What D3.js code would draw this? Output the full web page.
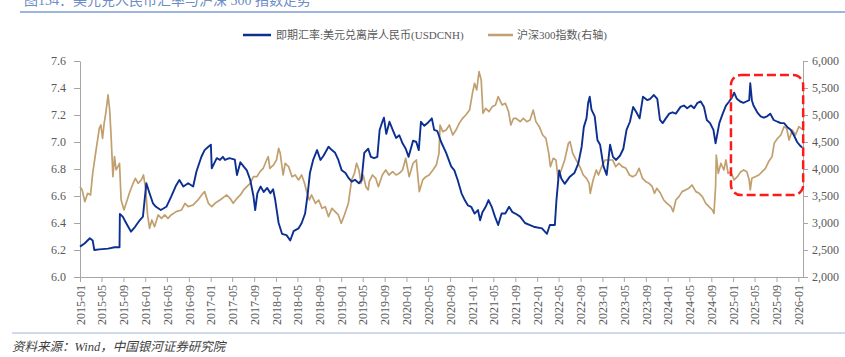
<!DOCTYPE html>
<html><head><meta charset="utf-8">
<script src="https://cdn.jsdelivr.net/npm/d3@7"></script>
<style>
html,body{margin:0;padding:0;background:#fff;}
svg text{font-family:"Liberation Serif","Noto Sans CJK SC",serif;}
</style></head>
<body><svg id="chart" width="845" height="357"></svg>
<script>
const titleText = "图134：美元兑人民币汇率与沪深 300 指数走势";
const sourceText = "资料来源：Wind，中国银河证券研究院";
const seriesNames = ["即期汇率:美元兑离岸人民币(USDCNH)", "沪深300指数(右轴)"];
const leftTicks = [6.0, 6.2, 6.4, 6.6, 6.8, 7.0, 7.2, 7.4, 7.6];
const rightTicks = [2000, 2500, 3000, 3500, 4000, 4500, 5000, 5500, 6000];
const xTickLabels = ["2015-01","2015-05","2015-09","2016-01","2016-05","2016-09","2017-01","2017-05","2017-09",
 "2018-01","2018-05","2018-09","2019-01","2019-05","2019-09","2020-01","2020-05","2020-09","2021-01","2021-05",
 "2021-09","2022-01","2022-05","2022-09","2023-01","2023-05","2023-09","2024-01","2024-05","2024-09","2025-01",
 "2025-05","2025-09","2026-01"];
const xDomain = ["2015-01-01", "2026-01-27"];
const highlightDates = ["2024-12-20", "2026-01-28"];
const highlightValues = [6.607, 7.496];

const usdcnh = [
["2015-01-01",6.225],["2015-01-28",6.25],["2015-02-25",6.287],["2015-03-13",6.27],["2015-03-22",6.20],
["2015-04-19",6.205],["2015-06-07",6.21],["2015-07-13",6.22],["2015-08-10",6.22],["2015-08-12",6.467],
["2015-08-28",6.447],["2015-09-16",6.40],["2015-10-13",6.336],["2015-11-04",6.37],["2015-12-01",6.42],
["2015-12-19",6.447],["2016-01-07",6.694],["2016-01-25",6.62],["2016-02-13",6.546],["2016-03-01",6.52],
["2016-03-28",6.496],["2016-04-28",6.52],["2016-05-25",6.595],["2016-06-22",6.68],["2016-07-10",6.718],
["2016-08-01",6.67],["2016-08-28",6.694],["2016-09-25",6.67],["2016-10-13",6.78],["2016-11-10",6.891],
["2016-11-28",6.94],["2016-12-19",6.965],["2017-01-02",6.98],["2017-01-07",6.805],["2017-02-04",6.88],
["2017-02-22",6.867],["2017-03-10",6.89],["2017-03-22",6.867],["2017-04-16",6.88],["2017-05-16",6.87],
["2017-05-28",6.755],["2017-06-16",6.85],["2017-07-04",6.82],["2017-07-22",6.79],["2017-08-10",6.72],
["2017-08-28",6.60],["2017-09-07",6.496],["2017-09-19",6.62],["2017-10-07",6.67],["2017-10-25",6.63],
["2017-11-13",6.66],["2017-12-01",6.62],["2017-12-16",6.65],["2017-12-28",6.57],["2018-01-16",6.40],
["2018-02-04",6.32],["2018-03-01",6.31],["2018-03-22",6.27],["2018-04-10",6.34],["2018-05-07",6.36],
["2018-05-25",6.40],["2018-06-13",6.47],["2018-06-28",6.62],["2018-07-10",6.77],["2018-07-28",6.867],
["2018-08-19",6.94],["2018-09-07",6.867],["2018-09-25",6.90],["2018-10-22",6.965],["2018-11-10",6.94],
["2018-11-28",6.92],["2018-12-16",6.867],["2019-01-04",6.79],["2019-01-25",6.77],["2019-02-13",6.73],
["2019-03-01",6.706],["2019-03-19",6.72],["2019-04-10",6.694],["2019-04-25",6.72],["2019-05-10",6.92],
["2019-06-01",6.95],["2019-06-16",6.89],["2019-07-04",6.88],["2019-07-22",6.89],["2019-08-04",7.089],
["2019-08-19",7.15],["2019-08-28",7.18],["2019-09-10",7.06],["2019-09-28",7.15],["2019-10-16",7.09],
["2019-11-04",7.03],["2019-11-22",7.05],["2019-12-10",6.99],["2019-12-28",6.95],["2020-01-13",6.89],
["2020-02-07",7.01],["2020-02-25",7.00],["2020-03-10",6.94],["2020-03-22",7.15],["2020-04-10",7.12],
["2020-04-28",7.14],["2020-05-22",7.175],["2020-06-04",7.09],["2020-06-22",7.08],["2020-07-13",7.00],
["2020-08-10",6.92],["2020-09-07",6.82],["2020-09-25",6.79],["2020-10-13",6.72],["2020-11-04",6.62],
["2020-11-22",6.57],["2020-12-10",6.53],["2020-12-28",6.52],["2021-01-16",6.47],["2021-02-04",6.496],
["2021-02-16",6.42],["2021-03-01",6.48],["2021-03-19",6.52],["2021-04-04",6.57],["2021-04-22",6.52],
["2021-05-10",6.447],["2021-05-28",6.385],["2021-06-16",6.47],["2021-07-07",6.47],["2021-07-28",6.52],
["2021-08-16",6.48],["2021-09-01",6.47],["2021-09-28",6.447],["2021-10-25",6.40],["2021-11-22",6.385],
["2021-12-19",6.37],["2022-01-28",6.36],["2022-02-25",6.32],["2022-03-13",6.385],["2022-04-10",6.385],
["2022-04-19",6.57],["2022-05-04",6.79],["2022-05-16",6.73],["2022-06-04",6.69],["2022-07-01",6.74],
["2022-07-28",6.77],["2022-08-19",6.84],["2022-09-07",6.965],["2022-09-19",7.11],["2022-10-04",7.175],
["2022-10-13",7.287],["2022-10-22",7.336],["2022-11-01",7.24],["2022-11-19",7.19],["2022-12-04",7.015],
["2022-12-19",6.98],["2023-01-07",6.82],["2023-01-25",6.756],["2023-02-13",6.98],["2023-03-01",6.89],
["2023-03-19",6.867],["2023-04-10",6.90],["2023-04-28",6.95],["2023-05-16",7.09],["2023-06-04",7.15],
["2023-06-22",7.26],["2023-07-10",7.22],["2023-07-28",7.175],["2023-08-16",7.336],["2023-09-10",7.31],
["2023-09-25",7.32],["2023-10-16",7.348],["2023-11-04",7.32],["2023-11-19",7.163],["2023-12-04",7.14],
["2023-12-22",7.175],["2024-01-10",7.21],["2024-01-28",7.22],["2024-02-16",7.21],["2024-03-13",7.26],
["2024-04-01",7.27],["2024-04-19",7.25],["2024-05-10",7.27],["2024-05-28",7.25],["2024-06-16",7.29],
["2024-07-04",7.30],["2024-07-22",7.26],["2024-08-07",7.163],["2024-08-25",7.14],["2024-09-13",7.09],
["2024-09-25",6.99],["2024-10-16",7.14],["2024-11-04",7.21],["2024-11-22",7.27],["2024-12-10",7.30],
["2024-12-28",7.336],["2025-01-07",7.365],["2025-01-22",7.32],["2025-02-10",7.30],["2025-02-28",7.29],
["2025-03-16",7.30],["2025-04-01",7.31],["2025-04-07",7.435],["2025-04-16",7.31],["2025-04-25",7.27],
["2025-05-16",7.22],["2025-06-04",7.19],["2025-06-22",7.18],["2025-07-10",7.19],["2025-07-28",7.21],
["2025-08-16",7.163],["2025-09-07",7.15],["2025-09-25",7.14],["2025-10-13",7.14],["2025-11-01",7.11],
["2025-11-19",7.09],["2025-12-07",7.05],["2025-12-25",7.00],["2026-01-13",6.97],["2026-01-22",6.96]
];

const csi300 = [
["2015-01-01",3673],["2015-01-13",3612],["2015-01-28",3395],["2015-02-13",3550],["2015-03-01",3519],
["2015-03-13",3920],["2015-04-01",4352],["2015-04-19",4753],["2015-04-28",4815],["2015-05-07",4568],
["2015-05-16",4845],["2015-05-25",5031],["2015-06-07",5371],["2015-06-16",5092],["2015-06-25",4537],
["2015-07-04",3858],["2015-07-13",4229],["2015-07-22",3982],["2015-08-01",4044],["2015-08-10",4106],
["2015-08-19",3426],["2015-09-04",3241],["2015-09-16",3365],["2015-10-04",3550],["2015-10-25",3735],
["2015-11-07",3828],["2015-11-22",3735],["2015-12-10",3797],["2015-12-22",3889],["2016-01-04",3612],
["2016-01-13",3179],["2016-01-25",2901],["2016-02-07",3056],["2016-02-22",2932],["2016-03-13",3149],
["2016-04-01",3087],["2016-04-19",3149],["2016-05-07",3087],["2016-05-25",3149],["2016-06-22",3210],
["2016-07-22",3241],["2016-08-10",3365],["2016-08-28",3303],["2016-09-25",3334],["2016-10-22",3427],
["2016-11-19",3550],["2016-11-28",3581],["2016-12-19",3365],["2017-01-07",3303],["2017-01-25",3365],
["2017-02-22",3426],["2017-03-19",3488],["2017-04-01",3519],["2017-04-19",3457],["2017-05-07",3365],
["2017-05-28",3457],["2017-06-16",3519],["2017-07-04",3612],["2017-07-22",3673],["2017-08-10",3735],
["2017-08-28",3858],["2017-09-16",3858],["2017-10-04",3951],["2017-10-22",4013],["2017-11-10",4167],
["2017-11-19",4229],["2017-11-28",4013],["2017-12-19",4075],["2018-01-04",4167],["2018-01-16",4383],
["2018-01-25",4290],["2018-02-10",3889],["2018-02-22",4106],["2018-03-13",4044],["2018-04-01",3858],
["2018-04-19",3889],["2018-05-07",3797],["2018-05-25",3889],["2018-06-10",3735],["2018-06-22",3580],
["2018-07-07",3426],["2018-07-19",3519],["2018-08-10",3365],["2018-08-28",3426],["2018-09-16",3272],
["2018-10-04",3303],["2018-10-22",3117],["2018-11-10",3272],["2018-11-28",3210],["2018-12-16",3149],
["2019-01-01",2994],["2019-01-19",3149],["2019-02-10",3365],["2019-02-28",3796],["2019-03-16",3920],
["2019-03-28",4106],["2019-04-10",3982],["2019-04-22",3735],["2019-05-04",3889],["2019-05-19",3673],
["2019-06-01",3612],["2019-06-07",3766],["2019-06-25",3889],["2019-07-13",3828],["2019-07-28",3673],
["2019-08-19",3889],["2019-09-07",3982],["2019-09-25",3889],["2019-10-16",3951],["2019-11-04",3889],
["2019-11-22",3920],["2019-12-10",3982],["2019-12-28",4198],["2020-01-16",3858],["2020-02-07",4106],
["2020-02-25",4167],["2020-03-13",3581],["2020-04-01",3797],["2020-04-19",3858],["2020-05-07",3889],
["2020-05-28",3982],["2020-06-16",4075],["2020-07-01",4290],["2020-07-07",4815],["2020-07-22",4692],
["2020-08-10",4722],["2020-08-28",4815],["2020-09-16",4630],["2020-10-04",4722],["2020-10-22",4845],
["2020-11-10",4939],["2020-11-28",5000],["2020-12-19",5092],["2021-01-04",5402],["2021-01-16",5587],
["2021-01-28",5463],["2021-02-10",5803],["2021-02-22",5650],["2021-03-04",5031],["2021-03-19",5124],
["2021-04-07",5062],["2021-04-25",5155],["2021-05-13",5186],["2021-05-28",5340],["2021-06-19",5186],
["2021-07-07",5217],["2021-07-25",5062],["2021-08-07",4815],["2021-08-22",4939],["2021-09-04",4939],
["2021-09-28",4877],["2021-10-16",4939],["2021-11-04",4877],["2021-11-22",4908],["2021-12-10",5092],
["2021-12-25",4877],["2022-01-13",4784],["2022-02-01",4630],["2022-02-19",4568],["2022-03-07",4290],
["2022-03-16",4043],["2022-04-01",4198],["2022-04-16",4167],["2022-04-28",3828],["2022-05-16",3982],
["2022-06-04",4167],["2022-06-25",4476],["2022-07-04",4507],["2022-07-19",4290],["2022-08-07",4167],
["2022-08-28",4044],["2022-09-16",3889],["2022-10-04",3828],["2022-10-19",3735],["2022-10-25",3550],
["2022-11-10",3797],["2022-11-28",3982],["2022-12-10",3889],["2022-12-28",4044],["2023-01-16",4167],
["2023-02-10",4167],["2023-02-28",4167],["2023-03-16",4044],["2023-04-04",4106],["2023-04-22",4044],
["2023-05-13",4013],["2023-06-01",3889],["2023-06-19",3858],["2023-07-07",3889],["2023-07-25",4013],
["2023-08-13",3828],["2023-09-01",3766],["2023-09-19",3735],["2023-10-07",3673],["2023-10-19",3550],
["2023-11-01",3642],["2023-11-22",3550],["2023-12-10",3426],["2023-12-28",3365],["2024-01-19",3303],
["2024-02-01",3210],["2024-02-16",3426],["2024-03-04",3488],["2024-03-22",3581],["2024-04-10",3612],
["2024-04-28",3642],["2024-05-16",3704],["2024-06-07",3581],["2024-06-25",3550],["2024-07-13",3488],
["2024-08-01",3365],["2024-08-19",3303],["2024-09-07",3241],["2024-09-16",3179],["2024-09-25",3673],
["2024-09-29",4259],["2024-10-10",3920],["2024-10-25",4106],["2024-11-10",3982],["2024-11-22",4167],
["2024-12-04",3920],["2024-12-19",3951],["2025-01-07",3797],["2025-01-25",3858],["2025-02-13",3951],
["2025-03-01",3982],["2025-03-19",3951],["2025-04-01",3797],["2025-04-07",3612],["2025-04-16",3828],
["2025-05-04",3858],["2025-05-25",3889],["2025-06-13",3951],["2025-07-01",4013],["2025-07-19",4137],
["2025-08-07",4229],["2025-08-19",4476],["2025-09-07",4568],["2025-09-25",4630],["2025-10-13",4784],
["2025-10-28",4753],["2025-11-10",4537],["2025-11-28",4722],["2025-12-16",4630],["2026-01-04",4784],
["2026-01-16",4753],["2026-01-22",4740]
];

const parse = d3.timeParse("%Y-%m-%d");
const parseM = d3.timeParse("%Y-%m");
const svg = d3.select("#chart");
const M = {left: 80, right: 803, top: 61, bottom: 277};

const x = d3.scaleTime().domain(xDomain.map(parse)).range([M.left, M.right]);
const yL = d3.scaleLinear().domain([6.0, 7.6]).range([M.bottom, M.top]);
const yR = d3.scaleLinear().domain([2000, 6000]).range([M.bottom, M.top]);

const textColor = "#595959", axisColor = "#a6a6a6";
const blue = "#0c2f91", tan = "#c19f6e";

// title (clipped at top, as in the reference) and rules
svg.append("text").attr("x", 24).attr("y", 5).attr("font-size", 14)
  .attr("fill", "#6d8dc6").text(titleText);
svg.append("line").attr("x1", 20).attr("x2", 845).attr("y1", 12).attr("y2", 12)
  .attr("stroke", "#7c9cd2").attr("stroke-width", 1.5);
svg.append("line").attr("x1", 12).attr("x2", 845).attr("y1", 333).attr("y2", 333)
  .attr("stroke", "#9fb5de").attr("stroke-width", 1.2);
svg.append("text").attr("x", 12).attr("y", 351).attr("font-size", 12.5)
  .attr("font-style", "italic").attr("fill", "#404040").text(sourceText);

// legend
const lg = svg.append("g");
lg.append("line").attr("x1", 243).attr("x2", 271).attr("y1", 35).attr("y2", 35).attr("stroke", blue).attr("stroke-width", 2.5);
lg.append("text").attr("x", 276).attr("y", 39).attr("font-size", 11).attr("fill", textColor).text(seriesNames[0]);
lg.append("line").attr("x1", 488).attr("x2", 513).attr("y1", 35).attr("y2", 35).attr("stroke", tan).attr("stroke-width", 2.5);
lg.append("text").attr("x", 517).attr("y", 39).attr("font-size", 11).attr("fill", textColor).text(seriesNames[1]);

// axes
function styleAxis(g) {
  g.selectAll("path,line").attr("stroke", axisColor);
  g.selectAll("text").attr("fill", textColor).attr("font-size", 12)
    .attr("font-family", "'Liberation Serif', serif");
}
svg.append("g").attr("transform", `translate(${M.left},0)`)
  .call(d3.axisLeft(yL).tickValues(leftTicks).tickFormat(d3.format(".1f")).tickSize(6).tickSizeOuter(0).tickPadding(8))
  .call(styleAxis);
svg.append("g").attr("transform", `translate(${M.right},0)`)
  .call(d3.axisRight(yR).tickValues(rightTicks).tickFormat(d3.format(",")).tickSize(5).tickSizeOuter(0).tickPadding(4))
  .call(styleAxis);
const xg = svg.append("g").attr("transform", `translate(0,${M.bottom})`)
  .call(d3.axisBottom(x).tickValues(xTickLabels.map(parseM)).tickFormat(d3.timeFormat("%Y-%m")).tickSize(5).tickSizeOuter(0))
  .call(styleAxis);
xg.select(".domain").attr("d", `M${M.left},0.5H${M.right}`);
xg.selectAll("text").attr("transform", "rotate(-90)").attr("text-anchor", "end")
  .attr("x", -8).attr("y", 0).attr("dy", "0.35em");

// lines
const lineL = d3.line().x(d => x(parse(d[0]))).y(d => yL(d[1]));
const lineR = d3.line().x(d => x(parse(d[0]))).y(d => yR(d[1]));
svg.append("path").datum(csi300).attr("d", lineR).attr("fill", "none")
  .attr("stroke", tan).attr("stroke-width", 1.7).attr("stroke-linejoin", "round");
svg.append("path").datum(usdcnh).attr("d", lineL).attr("fill", "none")
  .attr("stroke", blue).attr("stroke-width", 1.9).attr("stroke-linejoin", "round");

// highlight box
const hx0 = x(parse(highlightDates[0])), hx1 = x(parse(highlightDates[1]));
const hy0 = yL(highlightValues[1]), hy1 = yL(highlightValues[0]);
svg.append("rect").attr("x", hx0).attr("y", hy0).attr("width", hx1 - hx0).attr("height", hy1 - hy0)
  .attr("rx", 10).attr("ry", 10).attr("fill", "none").attr("stroke", "#ff1a1a")
  .attr("stroke-width", 2.5).attr("stroke-dasharray", "9,4");
</script></body></html>
